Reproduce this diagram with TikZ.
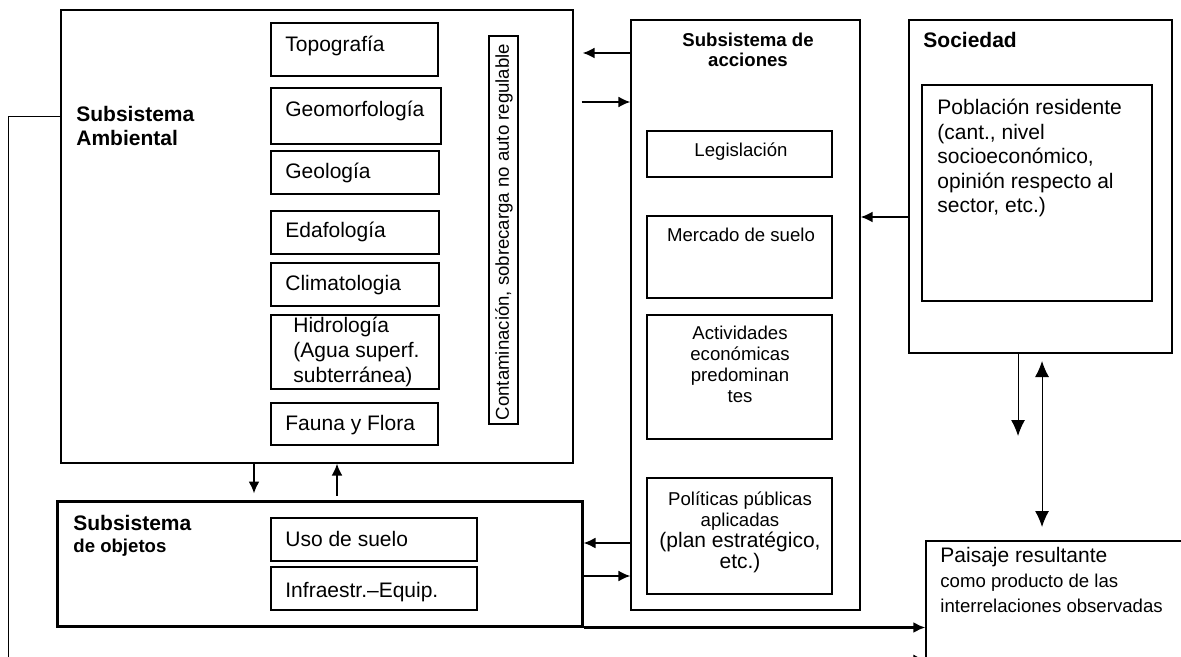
\documentclass[tikz,border=0pt]{standalone}
\usepackage{fontspec}
\setmainfont{Liberation Sans}
\usepackage{tikz}
\usetikzlibrary{arrows.meta}
\usetikzlibrary{fit}
\newcommand{\fnorm}{\fontsize{10.5}{12.3}\selectfont}
\newcommand{\fsmall}{\fontsize{9.3}{10.4}\selectfont}

\begin{document}
\begin{tikzpicture}[x=0.5pt, y=-0.5pt]
				\clip (0,0) rectangle (1181,657);
				% cajas
				\begin{scope}[every node/.style = {draw, inner sep=0pt, line width=0.6pt}]
					\node[fit={(61,10) (573,463)}] (AMB) {};
					\node[fit={(271,23) (438,76)}] (TOP) {};
					\node[fit={(271,88) (441,144)}] (GEM) {};
					\node[fit={(271,151) (439,194)}] (GEO) {};
					\node[fit={(271,211) (439,254)}] (EDA) {};
					\node[fit={(271,263) (439,306)}] (CLI) {};
					\node[fit={(271,315) (439,389)}] (HID) {};
					\node[fit={(271,403) (438,445)}] (FAU) {};
					\node[fit={(489,36) (518,424)}] (CON) {};
					\node[fit={(57,501) (582,626)}, line width=1.5pt] (OBJ) {};
					\node[fit={(271,518) (477,561)}] (USO) {};
					\node[fit={(271,567) (477,610)}] (INF) {};
					\node[fit={(631,20) (860,610)}] (ACC) {};
					\node[fit={(647,131) (832,177)}] (LEG) {};
					\node[fit={(647,216) (832,298)}] (MER) {};
					\node[fit={(647,315) (832,439)}] (ACT) {};
					\node[fit={(647,478) (832,594)}] (POL) {};
					\node[fit={(909,20) (1172,353)}] (SOC) {};
					\node[fit={(922,85) (1152,301)}] (POB) {};
					\node[fit={(926,541) (1200,700)}] (PAI) {};
				\end{scope}
				% textos (base = ultima linea)
				\begin{scope}[every node/.style = {inner sep=0pt, font=\fnorm, anchor=base west}]
					\node[font=\fnorm\bfseries, align=left] (tAMB) at (76,146) {Subsistema\\Ambiental};
					\node (tTOP) at (285,52) {Topografía};
					\node (tGEM) at (285,117) {Geomorfología};
					\node (tGEO) at (285,179) {Geología};
					\node (tEDA) at (285,238) {Edafología};
					\node (tCLI) at (285,291) {Climatologia};
					\node[align=left] (tHID) at (293,382) {Hidrología\\(Agua superf.\\subterránea)};
					\node (tFAU) at (285,430) {Fauna y Flora};
					\node[rotate=90, anchor=center, font=\fsmall] (tCON) at (504,232) {Contaminación, sobrecarga no auto regulable};
					\node[font=\fnorm\bfseries] (tOBJ) at (73,530) {Subsistema};
					\node[font=\fsmall\bfseries] (tOBJb) at (73,552) {de objetos};
					\node (tUSO) at (285,546) {Uso de suelo};
					\node (tINF) at (285,597) {Infraestr.–Equip.};
					\node[font=\fsmall\bfseries, align=center, anchor=base] (tACC) at (748,67) {Subsistema de\\acciones};
					\node[font=\fsmall, anchor=base] (tLEG) at (741,157) {Legislación};
					\node[font=\fsmall, anchor=base] (tMER) at (741,242) {Mercado de suelo};
					\node[font=\fsmall, align=center, anchor=base] (tACT) at (740,402) {Actividades\\económicas\\predominan\\tes};
					\node[font=\fsmall, align=center, anchor=base] (tPOL) at (740,568) {Políticas públicas\\aplicadas\\{\fnorm (plan estratégico,}\\{\fnorm etc.)}};
					\node[font=\fnorm\bfseries] (tSOC) at (923,48) {Sociedad};
					\node[align=left] (tPOB) at (937,213) {Población residente\\(cant., nivel\\socioeconómico,\\opinión respecto al\\sector, etc.)};
					\node[align=left] (tPAI) at (940,612) {Paisaje resultante\\{\fsmall como producto de las}\\{\fsmall interrelaciones observadas}};
				\end{scope}
				% flechas
				\coordinate (d1) at (1018,436);
				\coordinate (u2) at (1042,361);
				\coordinate (d2) at (1042,527);
				\begin{scope}[>={Latex[length=6pt,width=5.5pt]},
						every edge/.style={draw=black, line width=1pt}]
					\path [->] (ACC.west |- 0,53) edge[shorten >=4.5pt] (AMB.east |- 0,53);
					\path [->] (AMB.east |- 0,102) edge[shorten <=4pt] (ACC.west |- 0,102);
					\path [->] (SOC.west |- 0,217) edge (ACC.east |- 0,217);
					\path [->] (AMB.south -| 254,0) edge[shorten >=3pt] (OBJ.north -| 254,0);
					\path [->] (OBJ.north -| 337,0) edge[shorten <=2pt] (AMB.south -| 337,0);
					\path [->] (ACC.west |- 0,543) edge (OBJ.east |- 0,543);
					\path [->] (OBJ.east |- 0,576) edge (ACC.west |- 0,576);
					\path [->] (OBJ.south east) edge[line width=1.4pt] (PAI.west |- OBJ.south east);
					\path [-{Latex[length=8pt,width=7pt]}] (SOC.south -| d1) edge[line width=0.5pt] (d1);
					\path [{Latex[length=8pt,width=7pt]}-{Latex[length=8pt,width=7pt]}] (u2) edge[line width=0.5pt] (d2);
					\draw [->, line width=0.5pt] (AMB.west |- 0,117) -- (8,117) -- (8,660) -- (PAI.west |- 0,660);
				\end{scope}
			\end{tikzpicture}
\end{document}
